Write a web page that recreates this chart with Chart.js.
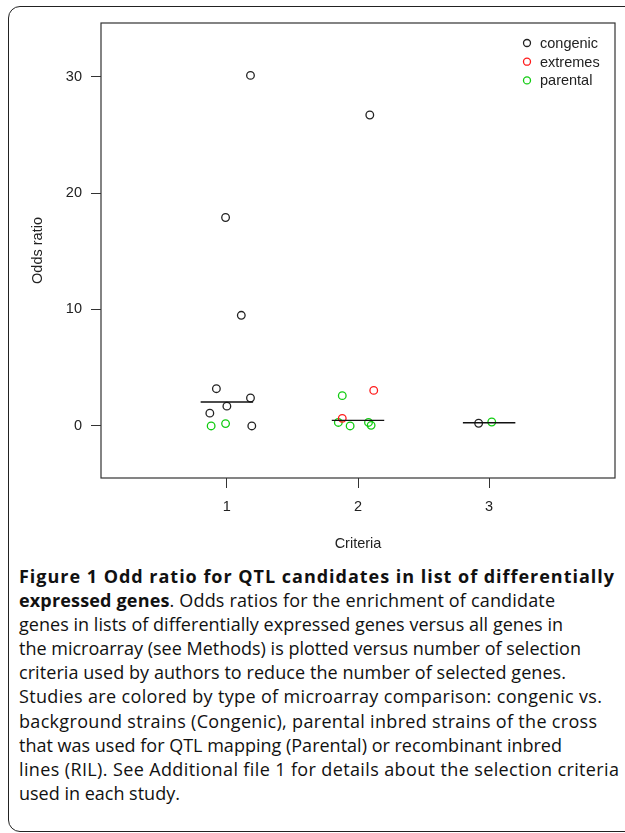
<!DOCTYPE html>
<html>
<head>
<meta charset="utf-8">
<script src="https://cdn.jsdelivr.net/npm/chart.js@4"></script>
<style>
  html, body { margin: 0; padding: 0; background: #fff; }
  body { width: 625px; height: 833px; position: relative; overflow: hidden; }
  #frame {
    position: absolute; left: 8px; top: 6px; width: 700px; height: 824px;
    border: 1.5px solid #222; border-radius: 12px;
  }
  #chart { position: absolute; left: 0; top: 0; }
  #caption {
    position: absolute; left: 19px; top: 564px;
    font-family: "Open Sans", sans-serif; font-size: 18px; line-height: 24.1px;
    color: #111; white-space: nowrap;
  }
  #caption .ln { display: block; }
  #caption b { font-weight: 700; }
</style>
</head>
<body>
<div id="frame"></div>
<canvas id="chart" width="625" height="560"></canvas>
<div id="caption">
  <span class="ln" data-end="614"><b>Figure 1 Odd ratio for QTL candidates in list of differentially</b></span>
  <span class="ln" data-end="555"><b>expressed genes</b>. Odds ratios for the enrichment of candidate</span>
  <span class="ln" data-end="563">genes in lists of differentially expressed genes versus all genes in</span>
  <span class="ln" data-end="581">the microarray (see Methods) is plotted versus number of selection</span>
  <span class="ln" data-end="566">criteria used by authors to reduce the number of selected genes.</span>
  <span class="ln" data-end="602">Studies are colored by type of microarray comparison: congenic vs.</span>
  <span class="ln" data-end="597">background strains (Congenic), parental inbred strains of the cross</span>
  <span class="ln" data-end="562">that was used for QTL mapping (Parental) or recombinant inbred</span>
  <span class="ln" data-end="619">lines (RIL). See Additional file 1 for details about the selection criteria</span>
  <span class="ln">used in each study.</span>
</div>
<script>
// Datos (x con jitter alrededor de cada criterio)
const criteria = [1, 2, 3];
const yTicks = [0, 10, 20, 30];

const congenicX = [1.18, 0.99, 1.11, 0.92, 1.18, 1.00, 0.87, 1.19, 2.09, 2.92];
const congenicY = [30.1, 17.9, 9.5, 3.2, 2.4, 1.7, 1.1, 0.0, 26.7, 0.23];

const extremesX = [2.12, 1.88];
const extremesY = [3.05, 0.65];

const parentalX = [0.88, 0.99, 1.88, 1.85, 1.94, 2.08, 2.10, 3.02];
const parentalY = [0.0, 0.2, 2.6, 0.3, 0.0, 0.3, 0.05, 0.34];

// medianas por criterio
const medians = [2.05, 0.48, 0.28];
const medianHalfWidth = 0.2;

const groups = [
    { label: 'congenic', xs: congenicX, ys: congenicY, color: '#222222' },
    { label: 'extremes', xs: extremesX, ys: extremesY, color: '#ff1a1a' },
    { label: 'parental', xs: parentalX, ys: parentalY, color: '#11cc11' }
];

const AXIS_FAMILY = '"Liberation Sans", Arial, Helvetica, sans-serif';
const AXIS_FONT = { family: AXIS_FAMILY, size: 14.5 };

function toPoints(xs, ys) {
    return xs.map((x, i) => ({ x: x, y: ys[i] }));
}

const datasets = [];

// segmentos de mediana
criteria.forEach((c, i) => {
    datasets.push({
        type: 'line',
        label: 'median ' + c,
        data: [{ x: c - medianHalfWidth, y: medians[i] }, { x: c + medianHalfWidth, y: medians[i] }],
        borderColor: '#111',
        borderWidth: 1.4,
        pointRadius: 0,
        fill: false
    });
});

groups.forEach(g => {
    datasets.push({
        type: 'scatter',
        label: g.label,
        data: toPoints(g.xs, g.ys),
        borderColor: g.color,
        backgroundColor: 'rgba(0,0,0,0)',
        pointRadius: 3.8,
        pointBorderWidth: 1.3,
        pointHoverRadius: 3.8
    });
});

// caja del gráfico y leyenda estilo R
const boxAndLegend = {
    id: 'boxAndLegend',
    afterDraw(chart) {
        const ctx = chart.ctx;
        const a = chart.chartArea;
        ctx.save();
        ctx.strokeStyle = '#333';
        ctx.lineWidth = 1.2;
        ctx.strokeRect(a.left, a.top, a.right - a.left, a.bottom - a.top);

        ctx.font = '14.5px ' + AXIS_FAMILY;
        ctx.textBaseline = 'middle';
        groups.forEach((g, i) => {
            const y = 43 + i * 18.7;
            ctx.beginPath();
            ctx.arc(527, y, 3.5, 0, Math.PI * 2);
            ctx.strokeStyle = g.color;
            ctx.lineWidth = 1.3;
            ctx.stroke();
            ctx.fillStyle = '#222';
            ctx.fillText(g.label, 540, y + 1);
        });
        ctx.restore();
    }
};

function drawChart() {
    new Chart(document.getElementById('chart'), {
        data: { datasets: datasets },
        options: {
            responsive: false,
            animation: false,
            layout: { padding: { top: 23, right: 10, left: 0, bottom: 0 } },
            plugins: {
                legend: { display: false },
                tooltip: { enabled: false }
            },
            scales: {
                x: {
                    type: 'linear',
                    min: 0.04,
                    max: 3.96,
                    afterBuildTicks(scale) { scale.ticks = criteria.map(v => ({ value: v })); },
                    afterFit(scale) { scale.height = 82; },
                    grid: { drawOnChartArea: false, drawTicks: true, tickLength: 10, color: '#333', tickColor: '#333' },
                    border: { display: false },
                    ticks: { color: '#222', font: AXIS_FONT, padding: 10 },
                    title: { display: true, text: 'Criteria', color: '#222', font: AXIS_FONT, padding: { top: 0, bottom: 7.3 } }
                },
                y: {
                    type: 'linear',
                    min: -4.47,
                    max: 34.6,
                    afterBuildTicks(scale) { scale.ticks = yTicks.map(v => ({ value: v })); },
                    afterFit(scale) { scale.width = 101; },
                    grid: { drawOnChartArea: false, drawTicks: true, tickLength: 10, color: '#333', tickColor: '#333' },
                    border: { display: false },
                    ticks: { color: '#222', font: AXIS_FONT, padding: 9 },
                    title: { display: true, text: 'Odds ratio', color: '#222', font: AXIS_FONT, padding: { top: 29.3, bottom: 0 } }
                }
            }
        },
        plugins: [boxAndLegend]
    });
}

// ajustar el espaciado de cada línea del pie para que termine donde en la figura
function fitCaption() {
    document.querySelectorAll('#caption .ln[data-end]').forEach(line => {
        const target = parseFloat(line.dataset.end) - 19;
        const range = document.createRange();
        range.selectNodeContents(line);
        const w = range.getBoundingClientRect().width;
        const chars = line.textContent.length;
        if (chars > 1) {
            let ls = (target - w) / (chars - 1);
            ls = Math.max(-0.25, Math.min(1.2, ls));
            line.style.letterSpacing = ls.toFixed(3) + 'px';
        }
    });
}

document.addEventListener('DOMContentLoaded', function() {
    const ready = document.fonts ? document.fonts.ready : Promise.resolve();
    ready.then(() => {
        fitCaption();
        return document.fonts ? document.fonts.load('14px "Liberation Sans"') : null;
    }).then(drawChart, drawChart);
});
</script>
</body>
</html>
